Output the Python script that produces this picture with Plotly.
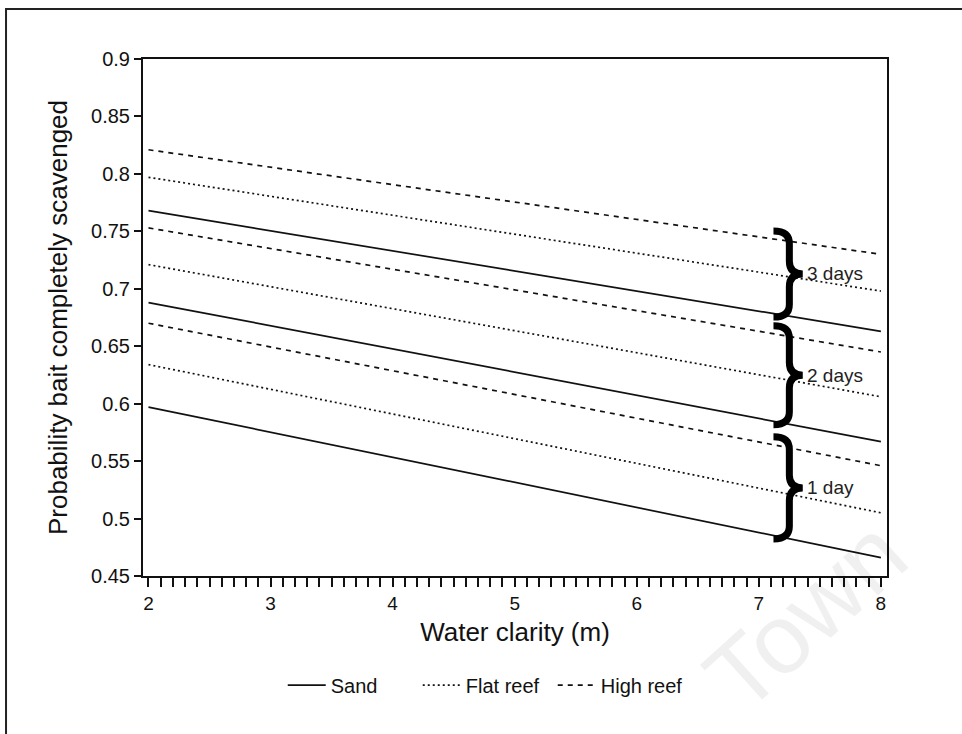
import plotly.graph_objects as go

# Water clarity (m) at the ends of each fitted line
clarity = [2, 8]

# Probability that bait is completely scavenged, per habitat and soak time
sand_1day = [0.597, 0.466]
flat_1day = [0.634, 0.505]
high_1day = [0.670, 0.546]

sand_2day = [0.688, 0.567]
flat_2day = [0.721, 0.606]
high_2day = [0.753, 0.645]

sand_3day = [0.768, 0.663]
flat_3day = [0.797, 0.698]
high_3day = [0.821, 0.730]

habitats = ["Sand", "Flat reef", "High reef"]
durations = ["1 day", "2 days", "3 days"]
x_tick_vals = [2, 3, 4, 5, 6, 7, 8]
y_tick_vals = [0.45, 0.5, 0.55, 0.6, 0.65, 0.7, 0.75, 0.8, 0.85, 0.9]

series = {
    "Sand": [sand_1day, sand_2day, sand_3day],
    "Flat reef": [flat_1day, flat_2day, flat_3day],
    "High reef": [high_1day, high_2day, high_3day],
}
dash_styles = {"Sand": "solid", "Flat reef": "2px,3px", "High reef": "5px,5px"}
widths = {"Sand": 1.7, "Flat reef": 1.7, "High reef": 1.7}

FONT = "Liberation Sans, Arial, sans-serif"
INK = "#111111"

fig = go.Figure()
for hab in habitats:
    for i, vals in enumerate(series[hab]):
        fig.add_trace(go.Scatter(
            x=clarity, y=vals, mode="lines",
            name=hab, legendgroup=hab, showlegend=(i == 0),
            line=dict(color=INK, width=widths[hab], dash=dash_styles[hab]),
            hoverinfo="skip",
        ))


def value_at(vals, x):
    """Linear value of a fitted line at clarity x."""
    t = (x - clarity[0]) / (clarity[1] - clarity[0])
    return vals[0] + t * (vals[1] - vals[0])


# Curly braces grouping the three habitats for each soak time
brace_left, brace_stem, brace_tip = 7.12, 7.25, 7.36
label_x = 7.38
r = 0.011
shapes = []
annotations = []
for i, label in enumerate(durations):
    top = value_at(series["High reef"][i], brace_left) + 0.007
    bot = value_at(series["Sand"][i], brace_left) - 0.003
    mid = (top + bot) / 2
    path = (
        f"M{brace_left},{top} Q{brace_stem},{top} {brace_stem},{top - r} "
        f"L{brace_stem},{mid + r} Q{brace_stem},{mid} {brace_tip},{mid} "
        f"Q{brace_stem},{mid} {brace_stem},{mid - r} "
        f"L{brace_stem},{bot + r} Q{brace_stem},{bot} {brace_left},{bot}"
    )
    shapes.append(dict(type="path", xref="x", yref="y", path=path,
                       line=dict(color="#000000", width=7)))
    annotations.append(dict(x=label_x, y=mid, xref="x", yref="y", text=label,
                            showarrow=False, xanchor="left", yanchor="middle",
                            font=dict(family=FONT, size=19, color="#222222")))

# Outer frame around the figure
shapes.append(dict(type="rect", xref="paper", yref="paper",
                   x0=-0.1841, x1=1.2, y0=-0.5, y1=1.0967,
                   line=dict(color="#222222", width=2), layer="below"))

# Faint watermark
annotations.append(dict(x=0.89, y=-0.075, xref="paper", yref="paper", text="Town",
                        showarrow=False, textangle=-42, xanchor="center", yanchor="middle",
                        font=dict(family=FONT, size=98, color="rgba(0,0,0,0.06)")))

fig.update_layout(
    width=962, height=734,
    margin=dict(l=143, r=75, t=59, b=158),
    paper_bgcolor="white", plot_bgcolor="white",
    font=dict(family=FONT, color=INK),
    showlegend=True,
    legend=dict(orientation="h", x=0.46, xanchor="center", y=-0.211, yanchor="middle",
                font=dict(family=FONT, size=20, color=INK),
                entrywidth=82, itemwidth=38, bgcolor="rgba(0,0,0,0)"),
    shapes=shapes,
    annotations=annotations,
    xaxis=dict(
        range=[1.955, 8.05], tickvals=x_tick_vals, ticktext=[str(v) for v in x_tick_vals],
        showline=True, linecolor=INK, linewidth=2, mirror=True,
        ticks="outside", ticklen=9, tickwidth=1.5, tickcolor=INK,
        minor=dict(dtick=0.1, tick0=2, ticks="outside", ticklen=9, tickwidth=1.5, tickcolor=INK),
        showgrid=False, zeroline=False,
        tickfont=dict(family=FONT, size=19, color=INK),
        title=dict(text="Water clarity (m)", font=dict(family=FONT, size=26, color=INK), standoff=10),
    ),
    yaxis=dict(
        range=[0.45, 0.9], tickvals=y_tick_vals,
        ticktext=[f"{v:g}" for v in y_tick_vals],
        showline=True, linecolor=INK, linewidth=2, mirror=True,
        ticks="outside", ticklen=7, tickwidth=1.5, tickcolor=INK,
        showgrid=False, zeroline=False,
        tickfont=dict(family=FONT, size=20, color=INK),
        title=dict(text="Probability bait completely scavenged",
                   font=dict(family=FONT, size=26, color=INK), standoff=16),
    ),
)

fig.write_html("out.html")
